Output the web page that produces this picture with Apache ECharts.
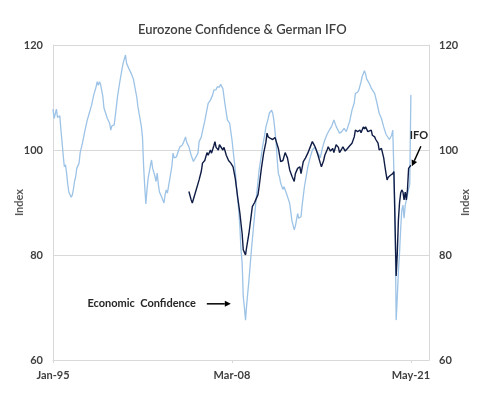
<!DOCTYPE html>
<html>
<head>
<meta charset="utf-8">
<script src="https://cdn.jsdelivr.net/npm/echarts@6/dist/echarts.min.js"></script>
<style>
  html, body { margin: 0; padding: 0; background: #fff; }
  #chart { width: 502px; height: 398px; }
</style>
</head>
<body>
<div id="chart"></div>
<script>
// Eurozone economic confidence (light line)
const ecDates = [
  "1995-01","1995-02","1995-03","1995-04","1995-05","1995-06","1995-07","1995-08","1995-09","1995-10","1995-11","1995-12",
  "1996-01","1996-02","1996-03","1996-04","1996-05","1996-06","1996-07","1996-08","1996-09","1996-10","1996-12",
  "1997-01","1997-03","1997-05","1997-07","1997-09","1997-11",
  "1998-01","1998-03","1998-04","1998-05","1998-06","1998-07","1998-09","1998-10","1998-11",
  "1999-01","1999-03","1999-04","1999-05","1999-07","1999-08","1999-10","1999-12",
  "2000-02","2000-03","2000-05","2000-06","2000-07","2000-08","2000-10","2000-12",
  "2001-01","2001-03","2001-04","2001-05","2001-07","2001-08","2001-09","2001-10","2001-11","2001-12",
  "2002-01","2002-03","2002-04","2002-05","2002-07","2002-08","2002-09","2002-10","2002-11","2002-12",
  "2003-01","2003-03","2003-04","2003-05","2003-06","2003-08","2003-10","2003-11","2003-12",
  "2004-02","2004-04","2004-05","2004-07","2004-08","2004-10","2004-11",
  "2005-01","2005-03","2005-05","2005-07","2005-09","2005-10","2005-12",
  "2006-01","2006-03","2006-06","2006-08","2006-10","2006-11",
  "2007-01","2007-02","2007-04","2007-05","2007-06","2007-07","2007-09","2007-11",
  "2008-01","2008-03","2008-04","2008-06","2008-07","2008-09","2008-10","2008-11","2008-12",
  "2009-01","2009-02","2009-03","2009-04","2009-06","2009-08","2009-09","2009-11","2009-12",
  "2010-02","2010-03","2010-05","2010-06","2010-08","2010-09","2010-11","2010-12",
  "2011-02","2011-03","2011-04","2011-06","2011-07","2011-08","2011-09","2011-10","2011-12",
  "2012-01","2012-03","2012-05","2012-06","2012-08","2012-10","2012-11",
  "2013-01","2013-02","2013-04","2013-05","2013-07","2013-09","2013-10","2013-12",
  "2014-02","2014-04","2014-07","2014-09","2014-11",
  "2015-01","2015-03","2015-05","2015-07","2015-09","2015-11",
  "2016-02","2016-04","2016-06","2016-08","2016-09","2016-11",
  "2017-01","2017-03","2017-04","2017-06","2017-07","2017-09","2017-10","2017-12",
  "2018-01","2018-02","2018-04","2018-06","2018-09","2018-11",
  "2019-01","2019-03","2019-04","2019-05","2019-07","2019-10","2019-12",
  "2020-01","2020-02","2020-03","2020-04","2020-05","2020-06","2020-07","2020-08","2020-09","2020-10","2020-11","2020-12",
  "2021-01","2021-02","2021-03","2021-04","2021-05"
];
const ecValues = [
  107.8,106.0,105.7,107.8,106.2,106.0,106.5,103.8,101.5,99.0,96.8,97.2,
  95.6,93.5,92.0,91.8,91.0,91.4,92.5,94.0,94.9,96.5,97.5,
  99.5,101.3,103.5,105.5,107.0,108.5,
  110.5,112.0,113.0,112.3,113.0,112.5,110.2,108.0,108.2,
  106.0,105.1,103.8,104.6,104.8,106.5,110.2,113.0,
  115.5,116.6,118.1,116.5,116.8,115.5,114.6,113.5,
  113.3,110.0,108.2,107.0,104.5,102.5,97.0,93.0,89.7,92.5,
  94.6,97.0,98.1,96.5,95.0,94.0,95.6,93.5,92.0,91.8,
  91.0,89.9,91.5,92.4,91.8,94.3,97.0,99.4,98.5,
  98.7,100.0,100.6,100.9,101.3,102.5,101.5,
  100.6,99.0,97.8,98.6,99.4,101.6,102.5,
  103.6,105.5,108.9,109.5,110.5,111.4,
  111.5,112.0,112.0,112.5,112.2,111.7,108.5,105.7,
  105.1,102.0,100.0,96.0,93.0,88.5,85.4,81.0,78.5,
  72.1,70.0,67.6,70.5,75.2,80.5,82.9,87.5,89.8,
  94.0,96.2,99.0,100.6,103.0,104.4,106.0,107.0,
  107.6,107.0,105.7,101.5,98.1,95.5,94.9,93.7,92.5,
  93.0,91.8,90.5,89.8,86.5,84.8,85.5,
  87.9,87.0,87.3,89.5,93.0,95.5,96.8,98.5,
  100.0,100.5,99.4,98.5,100.5,
  101.9,103.0,103.8,104.5,105.7,104.5,
  103.2,103.5,104.1,103.5,103.8,105.5,
  107.6,109.0,110.8,111.0,111.4,113.0,114.0,115.1,
  114.5,113.5,112.8,111.8,110.8,109.0,
  107.0,106.0,106.3,104.4,103.0,102.0,102.8,
  103.8,104.0,88.0,67.6,72.0,77.0,80.5,85.0,88.6,89.5,87.0,89.5,
  90.5,91.5,92.5,93.5,110.5
];

// German IFO business climate (dark line)
const ifoDates = [
  "2005-01","2005-03","2005-04","2005-05","2005-07","2005-08","2005-10","2005-12",
  "2006-01","2006-03","2006-05","2006-06","2006-08","2006-09","2006-11","2006-12",
  "2007-01","2007-03","2007-04","2007-05","2007-07","2007-08","2007-10","2007-12",
  "2008-02","2008-04","2008-06","2008-08","2008-10","2008-11","2008-12",
  "2009-01","2009-02","2009-03","2009-04","2009-06","2009-08","2009-09","2009-11","2009-12",
  "2010-02","2010-03","2010-05","2010-07","2010-09","2010-10","2010-11",
  "2011-01","2011-03","2011-05","2011-06","2011-08","2011-10","2011-12",
  "2012-02","2012-03","2012-04","2012-06","2012-08","2012-10","2012-11",
  "2013-01","2013-03","2013-04","2013-06","2013-08","2013-10","2013-12",
  "2014-02","2014-04","2014-05","2014-07","2014-09","2014-10","2014-12",
  "2015-01","2015-03","2015-04","2015-06","2015-08","2015-09","2015-11",
  "2016-01","2016-02","2016-04","2016-05","2016-07","2016-09","2016-11",
  "2017-01","2017-03","2017-04","2017-06","2017-08","2017-09","2017-11","2017-12",
  "2018-01","2018-03","2018-04","2018-06","2018-07","2018-09","2018-10","2018-12",
  "2019-01","2019-03","2019-04","2019-05","2019-06","2019-07","2019-08","2019-09","2019-10","2019-11","2019-12",
  "2020-01","2020-02","2020-03","2020-04","2020-05","2020-06","2020-07","2020-08","2020-09","2020-10","2020-11","2020-12",
  "2021-01","2021-02","2021-03","2021-04","2021-05"
];
const ifoValues = [
  92.1,90.5,89.9,90.2,92.1,92.0,94.3,96.0,
  97.5,98.0,99.5,99.0,100.0,99.4,100.8,101.6,
  100.5,100.0,101.0,101.0,100.0,100.5,99.0,98.0,
  97.5,96.8,94.5,91.1,88.0,86.0,84.1,
  81.0,80.5,80.0,81.5,84.1,87.5,89.2,90.0,90.5,
  91.5,93.0,96.5,99.4,101.5,103.2,102.5,
  102.2,102.0,102.4,102.3,100.3,97.8,98.0,
  99.5,99.0,98.5,96.2,95.0,94.0,95.5,
  96.5,96.8,95.5,97.8,98.5,99.4,100.5,
  101.6,100.8,100.3,99.0,97.5,96.8,98.0,
  99.0,100.0,100.6,99.8,100.3,99.5,101.0,
  100.5,99.5,100.2,100.6,99.8,100.3,100.8,
  101.3,102.5,103.8,103.5,103.8,103.3,104.4,104.0,
  104.4,103.5,103.8,103.8,102.8,102.5,102.0,101.3,
  100.0,100.3,100.0,98.5,97.0,95.6,94.3,94.8,94.6,95.2,95.0,
  95.5,95.9,86.0,76.0,80.3,86.7,90.0,91.8,92.4,92.0,90.5,92.0,
  90.5,92.5,96.5,96.8,97.1
];

const tickLabels = ["Jan-95", "Mar-08", "May-21"];
const yTicks = [60, 80, 100, 120];

const MONTHS = ["Jan","Feb","Mar","Apr","May","Jun","Jul","Aug","Sep","Oct","Nov","Dec"];
const START_YEAR = 1995;
const LAST_INDEX = 332; // axis runs a little past May-21

function monthIndex(d) {
  const [y, m] = d.split("-").map(Number);
  return (y - START_YEAR) * 12 + (m - 1);
}
function labelIndex(lbl) {
  const [mon, yy] = lbl.split("-");
  const n = Number(yy);
  const year = n >= 50 ? 1900 + n : 2000 + n;
  return (year - START_YEAR) * 12 + MONTHS.indexOf(mon);
}
function indexLabel(i) {
  const y = START_YEAR + Math.floor(i / 12);
  return MONTHS[i % 12] + "-" + String(y % 100).padStart(2, "0");
}

const tickValues = tickLabels.map(labelIndex);
const ecData = ecDates.map((d, i) => [monthIndex(d), ecValues[i]]);
const ifoData = ifoDates.map((d, i) => [monthIndex(d), ifoValues[i]]);

const chart = echarts.init(document.getElementById("chart"));

const FONT = "Lato";
const axisText = { color: "#404040", fontSize: 11, fontWeight: "bold", fontFamily: FONT };
const gridColor = "#d9d9d9";

function yAxisDef(pos) {
  return {
    type: "value",
    position: pos,
    min: yTicks[0],
    max: yTicks[yTicks.length - 1],
    interval: 20,
    name: "Index",
    nameLocation: "middle",
    nameRotate: 90,
    nameGap: pos === "left" ? 28 : 31,
    nameMoveOverlap: false,
    nameTextStyle: { color: "#595959", fontSize: 11, fontWeight: "bold", fontFamily: FONT },
    axisLine: { show: true, lineStyle: { color: gridColor, width: 1 } },
    axisTick: { show: false },
    axisLabel: Object.assign({ margin: 10 }, axisText),
    splitLine: { show: pos === "left", lineStyle: { color: gridColor, width: 1 } }
  };
}

chart.setOption({
  animation: false,
  backgroundColor: "#fff",
  title: {
    text: "Eurozone Confidence & German IFO",
    left: 133,
    top: 18,
    textStyle: { color: "#404040", fontSize: 13, fontWeight: 600, fontFamily: FONT }
  },
  grid: { left: 53, right: 73, top: 45, bottom: 38, containLabel: false },
  xAxis: {
    type: "value",
    min: 0,
    max: LAST_INDEX,
    axisLine: { show: true, lineStyle: { color: gridColor } },
    axisTick: { show: true, customValues: tickValues, length: 3, lineStyle: { color: gridColor } },
    axisLabel: Object.assign({ customValues: tickValues, margin: 10, formatter: v => indexLabel(v) }, axisText),
    splitLine: { show: false }
  },
  yAxis: [yAxisDef("left"), yAxisDef("right")],
  series: [
    {
      name: "Economic Confidence",
      type: "line",
      data: ecData,
      showSymbol: false,
      lineStyle: { color: "#9dc3e6", width: 1.3 },
      z: 2
    },
    {
      name: "IFO",
      type: "line",
      yAxisIndex: 1,
      data: ifoData,
      showSymbol: false,
      lineStyle: { color: "#0f1c45", width: 1.4 },
      z: 3
    }
  ]
});

// annotations: text labels with arrows
function arrow(x1, y1, x2, y2) {
  const a = Math.atan2(y2 - y1, x2 - x1);
  const h = 6, w = 3;
  const bx = x2 - h * Math.cos(a), by = y2 - h * Math.sin(a);
  return [
    { type: "line", z: 10, shape: { x1: x1, y1: y1, x2: bx, y2: by }, style: { stroke: "#000", lineWidth: 1.5 } },
    { type: "polygon", z: 10, shape: { points: [
      [x2, y2],
      [bx + w * Math.sin(a), by - w * Math.cos(a)],
      [bx - w * Math.sin(a), by + w * Math.cos(a)]
    ] }, style: { fill: "#000" } }
  ];
}

const ecPt = chart.convertToPixel({ xAxisIndex: 0, yAxisIndex: 0 }, [labelIndex("Feb-08"), 70.7]);
const ifoPt = chart.convertToPixel({ xAxisIndex: 0, yAxisIndex: 1 }, [monthIndex(ifoDates[ifoDates.length - 1]), ifoValues[ifoValues.length - 1]]);

const noteText = { fill: "#262626", fontSize: 11, fontWeight: "bold", fontFamily: FONT };

chart.setOption({
  graphic: [
    { type: "text", z: 10, x: ecPt[0] - 35, y: ecPt[1], style: Object.assign({ text: "Economic  Confidence", align: "right", verticalAlign: "middle" }, noteText) },
    ...arrow(ecPt[0] - 24, ecPt[1], ecPt[0], ecPt[1]),
    { type: "text", z: 10, x: ifoPt[0] + 8, y: ifoPt[1] - 30, style: Object.assign({ text: "IFO", align: "center", verticalAlign: "middle" }, noteText) },
    ...arrow(ifoPt[0] + 10, ifoPt[1] - 19, ifoPt[0] + 1, ifoPt[1] + 1)
  ]
});

window.addEventListener("resize", () => chart.resize());
</script>
</body>
</html>
